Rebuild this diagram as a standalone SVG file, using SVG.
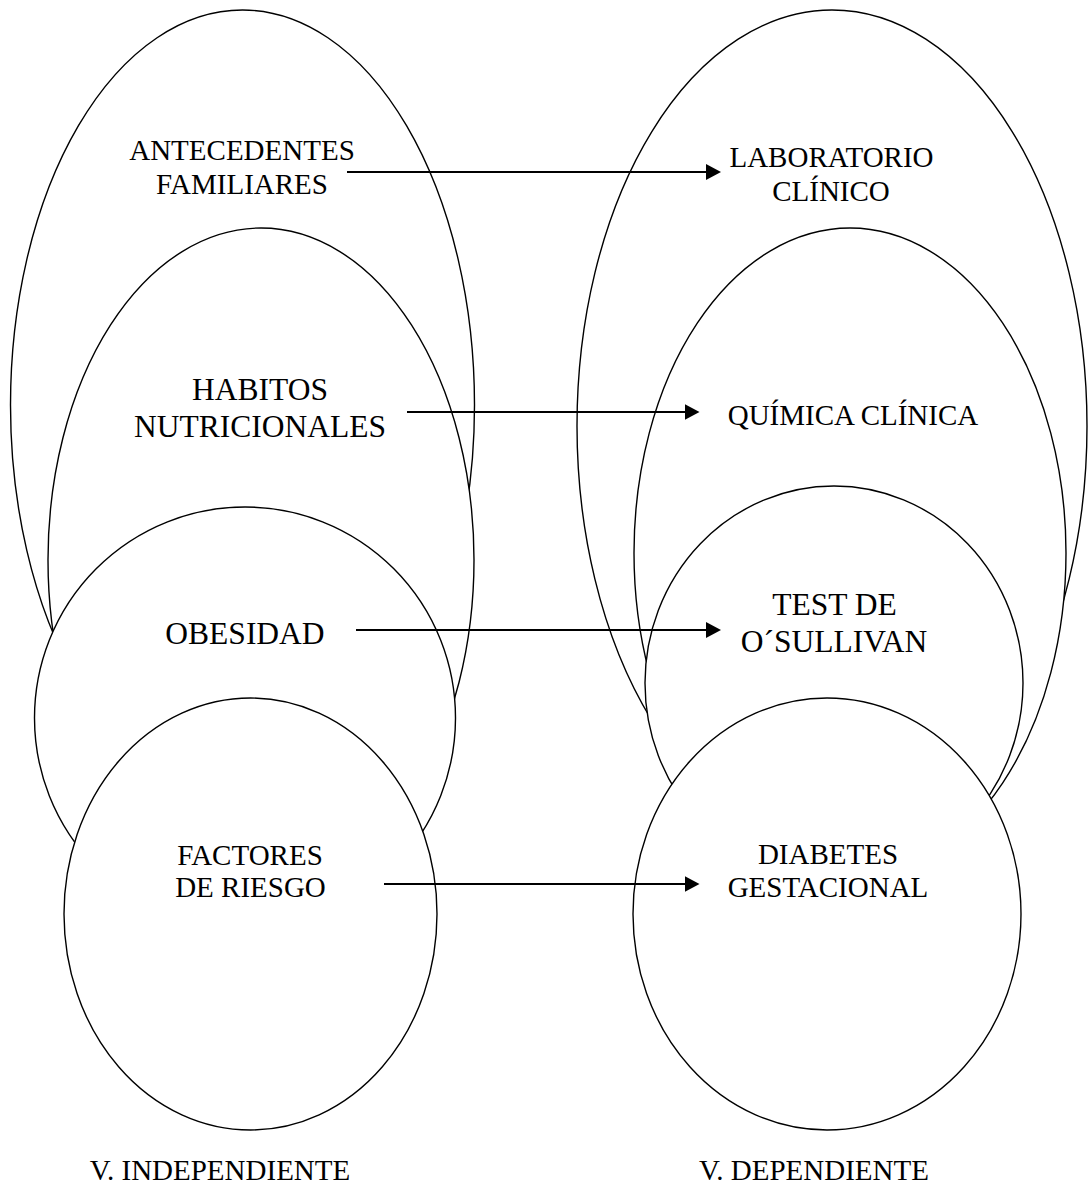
<svg xmlns="http://www.w3.org/2000/svg" width="1091" height="1187" viewBox="0 0 1091 1187">
<style>
.n{fill:#fff;stroke:#000;stroke-width:1.4}
.t{font-family:"Liberation Serif","Times New Roman",serif;font-size:29px;fill:#000;text-anchor:middle}
.b{font-size:31.5px}
.c{stroke:#000;stroke-width:2.2;fill:none;marker-end:url(#ah)}
</style>
<defs>
<marker id="ah" markerUnits="userSpaceOnUse" markerWidth="16" markerHeight="17" refX="1" refY="8" orient="auto">
<path d="M0,0 L15,8 L0,16 z" fill="#000"/>
</marker>
</defs>
<rect width="1091" height="1187" fill="#fff"/>
<g id="antecedentes"><ellipse class="n" cx="242.5" cy="405" rx="232" ry="395"/><text class="t" x="242" y="160">ANTECEDENTES</text><text class="t" x="242" y="194">FAMILIARES</text></g>
<g id="habitos"><ellipse class="n" cx="261" cy="560" rx="213" ry="332"/><text class="t b" x="260" y="400">HABITOS</text><text class="t b" x="260" y="437">NUTRICIONALES</text></g>
<g id="obesidad"><ellipse class="n" cx="245" cy="718" rx="210.5" ry="211"/><text class="t b" x="245" y="644">OBESIDAD</text></g>
<g id="factores"><ellipse class="n" cx="250.5" cy="914" rx="186.5" ry="216"/><text class="t" x="250" y="865">FACTORES</text><text class="t" x="250.5" y="897">DE RIESGO</text></g>
<g id="laboratorio"><ellipse class="n" cx="832" cy="426" rx="255" ry="416"/><text class="t" x="831.5" y="167">LABORATORIO</text><text class="t" x="831" y="201">CLÍNICO</text></g>
<g id="quimica"><ellipse class="n" cx="850" cy="553" rx="216" ry="325"/><text class="t" x="853" y="425">QUÍMICA CLÍNICA</text></g>
<g id="test"><ellipse class="n" cx="834" cy="683" rx="189" ry="197"/><text class="t b" x="834.5" y="615">TEST DE</text><text class="t b" x="834" y="652">O´SULLIVAN</text></g>
<g id="diabetes"><ellipse class="n" cx="827" cy="914" rx="194" ry="216"/><text class="t" x="828" y="864">DIABETES</text><text class="t" x="828" y="897">GESTACIONAL</text></g>
<g id="connectors">
<line class="c" x1="347" y1="172" x2="707" y2="172"/>
<line class="c" x1="407" y1="412" x2="685.5" y2="412"/>
<line class="c" x1="356" y1="630" x2="707" y2="630"/>
<line class="c" x1="384" y1="884" x2="685.5" y2="884"/>
</g>
<g id="labels"><text class="t" x="220" y="1180">V. INDEPENDIENTE</text><text class="t" x="814" y="1180">V. DEPENDIENTE</text></g>
</svg>
